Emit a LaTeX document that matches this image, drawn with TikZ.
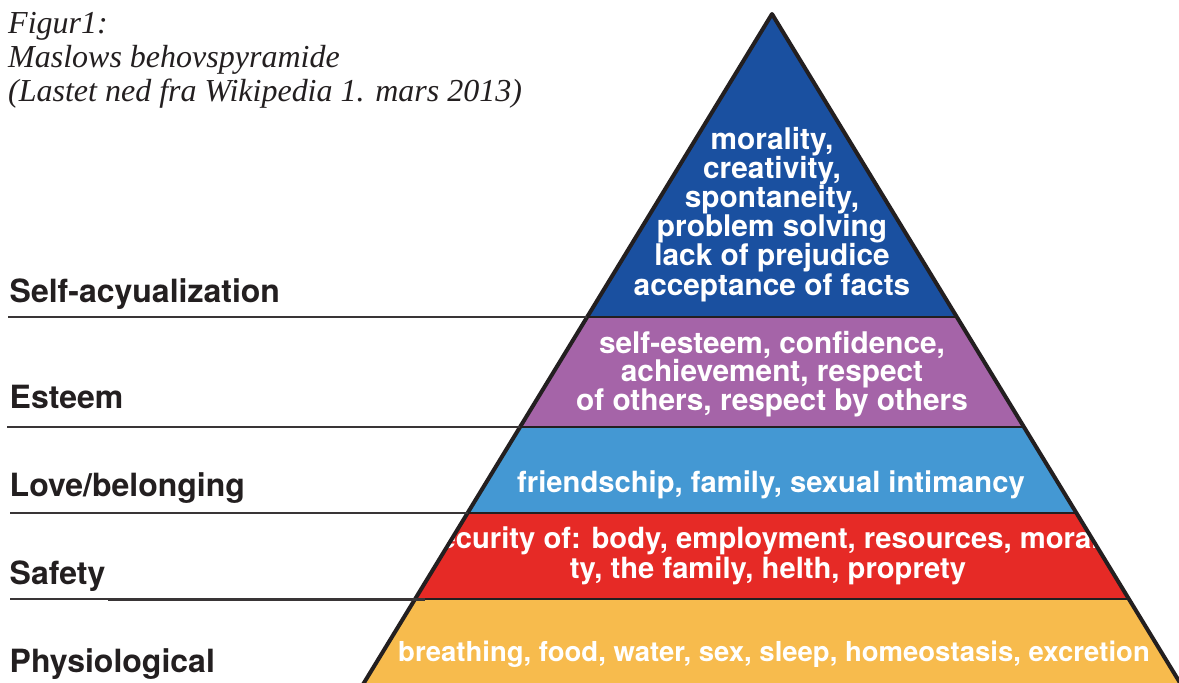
\documentclass[tikz,border=0pt]{standalone}
\usepackage{fontspec}
\setmainfont{Liberation Serif}
\newfontfamily\hel{TeX Gyre Heros}
\definecolor{ink}{HTML}{231F20}
\definecolor{pblue}{HTML}{1A50A0}
\definecolor{ppurple}{HTML}{A564A8}
\definecolor{plight}{HTML}{4498D3}
\definecolor{pred}{HTML}{E62A26}
\definecolor{pyellow}{HTML}{F7BB4D}
\begin{document}
\begin{tikzpicture}[x=1pt,y=-1pt,
  lbltxt/.style={anchor=base west,inner sep=0pt,text=ink,font=\hel\bfseries\fontsize{32}{32}\selectfont},
  captxt/.style={anchor=base west,inner sep=0pt,text=ink,font=\itshape\fontsize{32}{33}\selectfont},
  bandtxt/.style={anchor=base,inner sep=0pt,text=white,font=\hel\bfseries\fontsize{29.8}{29}\selectfont},
  labelrule/.style={draw=ink!90,line width=2pt},
  bandline/.style={draw=ink,line width=2pt},
  outline/.style={draw=ink,line width=4pt,line join=round}]
\useasboundingbox (0,0) rectangle (1179,683);
\fill[white] (0,0) rectangle (1179,683);

% caption
\node[captxt] (c1) at (8,33) {Figur1:};
\node[captxt] (c2) at (8,67) {Maslows behovspyramide};
\node[captxt] (c3) at (8,101) {(Lastet ned fra Wikipedia 1. mars 2013)};

% pyramid
\coordinate (apex) at (772,14);
\coordinate (bl) at (353.5,700);
\coordinate (br) at (1190.5,700);

\begin{scope}
  \clip (apex) -- (bl) -- (br) -- cycle;
  \fill[pblue]   (300,0)   rectangle (1200,317);
  \fill[ppurple] (300,317) rectangle (1200,427);
  \fill[plight]  (300,427) rectangle (1200,513);
  \fill[pred]    (300,513) rectangle (1200,599);
  \fill[pyellow] (300,599) rectangle (1200,700);
  \coordinate (s1a) at (300,317); \coordinate (s1b) at (1200,317);
  \coordinate (s2a) at (300,427); \coordinate (s2b) at (1200,427);
  \coordinate (s3a) at (300,513); \coordinate (s3b) at (1200,513);
  \coordinate (s4a) at (300,599); \coordinate (s4b) at (1200,599);
  \draw[bandline] (s1a) -- (s1b);
  \draw[bandline] (s2a) -- (s2b);
  \draw[bandline] (s3a) -- (s3b);
  \draw[bandline] (s4a) -- (s4b);

  % self-actualization band
  \node[bandtxt] (t1) at (772,149) {morality,};
  \node[bandtxt] (t2) at (772,178.2) {creativity,};
  \node[bandtxt] (t3) at (772,207.4) {spontaneity,};
  \node[bandtxt] (t4) at (772,236.6) {problem solving};
  \node[bandtxt] (t5) at (772,265.8) {lack of prejudice};
  \node[bandtxt] (t6) at (772,295) {acceptance of facts};
  % esteem band
  \node[bandtxt] (e1) at (772,353) {self-esteem, confidence,};
  \node[bandtxt] (e2) at (772,381.5) {achievement, respect};
  \node[bandtxt] (e3) at (772,410) {of others, respect by others};
  % love band
  \node[bandtxt,font=\hel\bfseries\fontsize{29.2}{29}\selectfont] (l1) at (771,492.5) {friendschip, family, sexual intimancy};
  % safety band
  \node[bandtxt,anchor=base west,font=\hel\bfseries\fontsize{29.2}{29}\selectfont] (s1) at (420,548) {Security of: body, employment, resources, morali};
  \node[bandtxt,font=\hel\bfseries\fontsize{29.2}{29}\selectfont] (s2) at (768,578) {ty, the family, helth, proprety};
  % physiological band
  \node[bandtxt,font=\hel\bfseries\fontsize{27.5}{29}\selectfont] (p1) at (774,661) {breathing, food, water, sex, sleep, homeostasis, excretion};
\end{scope}
\draw[outline] (bl) -- (apex) -- (br);

% label rules
\coordinate (r1a) at (8,317);   \coordinate (r1b) at (587,317);
\coordinate (r2a) at (7,426.5); \coordinate (r2b) at (520,426.5);
\coordinate (r3a) at (10,512.7);\coordinate (r3b) at (468,512.7);
\coordinate (r4a) at (10,599);  \coordinate (r4m) at (108,599); \coordinate (r4b) at (425,599);
\draw[labelrule] (r1a) -- (r1b);
\draw[labelrule] (r2a) -- (r2b);
\draw[labelrule] (r3a) -- (r3b);
\draw[labelrule] (r4a) -- (r4m);
\draw[labelrule,line width=3pt] (r4m) -- (r4b);

% level labels
\node[lbltxt] (L1) at (9.5,302) {Self-acyualization};
\node[lbltxt] (L2) at (9.5,408) {Esteem};
\node[lbltxt] (L3) at (9.5,496) {Love/belonging};
\node[lbltxt] (L4) at (9.5,584) {Safety};
\node[lbltxt] (L5) at (9.5,672) {Physiological};
\end{tikzpicture}
\end{document}
